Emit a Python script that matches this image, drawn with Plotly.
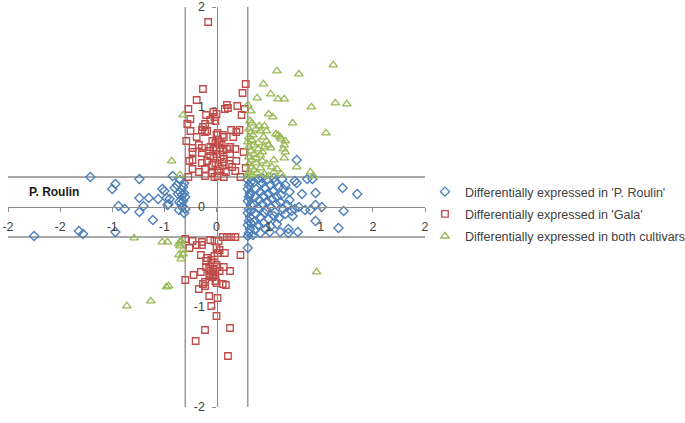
import plotly.graph_objects as go

# ---- data (log fold changes; x = 'P. Roulin', y = 'Gala') ----
roulin_x = [-1.75, -1.32, -1.28, -1.21, -0.97, -0.97, -1.00, -0.94, -0.88, -0.74, -0.74, -0.65, -0.70, -0.74, -0.61,
            -0.56, -0.52, -0.50, -0.48, -0.45, -0.47, -0.46, -0.42, -0.40, -0.35, -0.31, -0.37, -0.35, -0.33, -0.31,
            -0.36, -0.34, -0.32, -0.36, -0.33, -0.31, -0.38, -0.32, -0.30, -0.30,
            0.77, 0.77, 0.75, 0.87, 0.92, 1.21, 1.35, 0.95, 0.82, 0.70, 0.70, 0.79, 0.85, 0.90, 0.95, 1.01, 1.22,
            0.73, 0.95, 1.17, 0.61, 0.69, 0.69, 0.78, 0.51, 0.30, 0.72, 0.75,
            0.30, 0.31, 0.30, 0.32, 0.31, 0.30, 0.33, 0.31, 0.30, 0.32, 0.31, 0.30, 0.32, 0.31, 0.30, 0.33, 0.32, 0.33, 0.33,
            0.36, 0.40, 0.44, 0.48, 0.52, 0.56, 0.60, 0.64, 0.38, 0.42, 0.46, 0.50, 0.54, 0.58, 0.62, 0.37, 0.41, 0.45,
            0.49, 0.53, 0.57, 0.61, 0.36, 0.40, 0.44, 0.48, 0.52, 0.56, 0.64, 0.38, 0.42, 0.46, 0.50, 0.55, 0.60, 0.36,
            0.40, 0.45, 0.52, 0.58, 0.37, 0.42, 0.35, 0.47, 0.66, 0.68, 0.66, 0.44, 0.55, 0.63]
roulin_y = [-0.29, -0.24, -0.27, 0.30, -0.25, 0.23, 0.18, 0.01, -0.02, 0.28, 0.09, 0.09, 0.01, -0.05, -0.13,
            0.08, 0.18, 0.16, 0.09, 0.08, 0.02, 0.03, 0.31, 0.19, 0.27, 0.24, 0.13, 0.15, 0.12, 0.14,
            0.05, 0.04, 0.06, -0.03, 0.00, -0.06, 0.22, 0.20, 0.10, -0.02,
            0.47, 0.24, 0.26, 0.28, 0.28, 0.19, 0.13, 0.14, 0.13, 0.15, 0.07, 0.00, -0.03, -0.03, 0.02, 0.00, -0.04,
            -0.09, -0.14, -0.21, -0.25, -0.22, -0.26, -0.25, -0.25, -0.41, -0.04, -0.02,
            0.27, 0.22, 0.18, 0.14, 0.10, 0.06, 0.02, -0.02, -0.06, -0.10, -0.14, -0.18, -0.22, -0.26, -0.29, 0.25, 0.12, -0.04, -0.16,
            0.25, 0.28, 0.24, 0.27, 0.22, 0.25, 0.20, 0.18, 0.18, 0.15, 0.19, 0.13, 0.16, 0.10, 0.12, 0.10, 0.07, 0.11,
            0.05, 0.08, 0.03, 0.05, 0.02, -0.01, 0.03, -0.03, 0.00, -0.05, -0.02, -0.07, -0.10, -0.06, -0.12, -0.09, -0.11, -0.15,
            -0.18, -0.16, -0.19, -0.17, -0.23, -0.26, -0.28, -0.22, -0.07, 0.02, 0.22, 0.29, 0.29, 0.28]

gala_x = [-0.08, -0.13, -0.19, 0.28, 0.25, -0.27, 0.10, 0.08, 0.11, 0.20, 0.27, -0.03, -0.02, 0.00, -0.10, -0.06, -0.01,
          -0.28, -0.11, -0.13, -0.25, -0.14, -0.11, -0.09, 0.00, 0.01, 0.06, 0.07, 0.14, 0.19, 0.22, 0.16, -0.29, -0.04,
          -0.01, 0.01, 0.03, -0.17, -0.14, -0.23, -0.06, -0.03, 0.00, 0.03, 0.06, 0.10, 0.13, 0.18, -0.14, -0.23, -0.06,
          -0.03, 0.00, 0.04, 0.07, 0.13, -0.26, -0.23, -0.14, -0.09, -0.04, -0.01, 0.02, 0.07, 0.12, 0.19, -0.23, -0.17,
          -0.11, -0.04, 0.01, 0.04, 0.09, 0.18, -0.27, -0.11, -0.02, 0.01, 0.07, 0.23, 0.28, -0.25, 0.24, 0.05, -0.07,
          0.15, -0.19, 0.26,
          -0.23, -0.19, -0.14, -0.14, -0.06, -0.02, 0.02, 0.06, 0.10, 0.14, 0.00, 0.03, 0.01, -0.15, -0.02, 0.08, 0.23,
          -0.09, -0.10, -0.05, -0.02, 0.00, -0.10, -0.07, -0.03, 0.00, -0.15, -0.06, -0.02, 0.03, 0.07, 0.13, -0.22, -0.06,
          -0.04, -0.03, -0.01, -0.07, -0.30, -0.11, -0.13, -0.01, 0.00, 0.06, 0.09, -0.17, -0.11, -0.07, 0.01, -0.05, 0.00,
          -0.11, 0.13, -0.20, 0.11, -0.30, -0.26, 0.18]
gala_y = [1.85, 1.18, 1.07, 1.23, 1.14, 0.98, 1.02, 0.98, 0.99, 1.01, 0.98, 0.95, 0.90, 0.93, 0.92, 0.87, 0.86,
          0.83, 0.83, 0.80, 0.76, 0.77, 0.75, 0.76, 0.72, 0.74, 0.72, 0.70, 0.77, 0.75, 0.77, 0.70, 0.66, 0.66,
          0.64, 0.67, 0.65, 0.62, 0.59, 0.59, 0.60, 0.58, 0.57, 0.59, 0.57, 0.58, 0.60, 0.58, 0.54, 0.55, 0.51,
          0.49, 0.53, 0.50, 0.48, 0.53, 0.46, 0.47, 0.44, 0.46, 0.42, 0.44, 0.41, 0.45, 0.43, 0.46, 0.38, 0.35,
          0.38, 0.34, 0.36, 0.38, 0.35, 0.36, 0.30, 0.31, 0.30, 0.31, 0.30, 0.30, 0.39, 0.88, 0.92, 0.62, 0.56,
          0.40, 0.70, 0.55,
          -0.34, -0.38, -0.35, -0.38, -0.33, -0.34, -0.34, -0.30, -0.30, -0.30, -0.41, -0.43, -0.46, -0.48, -0.49, -0.46, -0.48,
          -0.51, -0.54, -0.53, -0.56, -0.58, -0.60, -0.62, -0.62, -0.60, -0.65, -0.64, -0.65, -0.64, -0.60, -0.64, -0.68, -0.67,
          -0.70, -0.68, -0.68, -0.69, -0.73, -0.75, -0.77, -0.74, -0.76, -0.77, -0.78, -0.82, -0.79, -0.89, -0.91, -0.99, -1.09,
          -1.23, -1.21, -1.34, -1.49, -0.32, -0.41, -0.30]

both_x = [1.12, 0.58, 0.79, 0.45, 0.52, 0.39, 0.59, 0.65, 0.30, 1.14, 1.25, 0.91, 0.33, 0.50, 0.54, 0.73, 1.05, 0.32,
          0.34, 0.41, 0.46, 0.59, 0.61, 0.66, 0.65, 0.64, 0.66, 0.65, 0.77, 0.93, 0.90, 0.57, 0.62,
          0.31, 0.33, 0.35, 0.31, 0.34, 0.38, 0.42, 0.48, 0.45, 0.48, 0.50, 0.52, 0.46, 0.40, 0.36, 0.31, 0.33, 0.36,
          0.31, 0.34, 0.38, 0.42, 0.44, 0.48, 0.53, 0.58, 0.31, 0.33, 0.36, 0.31, 0.34, 0.39, 0.42, 0.46, 0.50, 0.30,
          0.55, 0.62, 0.40, 0.30, 0.44, 0.55, 0.38,
          -0.32, -0.43, -0.35, -0.79, -0.52, -0.47, -0.35, -0.36, -0.34, -0.32, -0.32, -0.34, -0.35, -0.46, -0.48,
          -0.63, -0.86, 0.96, -0.36]
both_y = [1.42, 1.36, 1.33, 1.23, 1.13, 1.09, 1.08, 1.08, 1.02, 1.04, 1.03, 1.00, 0.96, 0.93, 0.90, 0.84, 0.74, 0.86,
          0.84, 0.81, 0.81, 0.72, 0.70, 0.66, 0.62, 0.58, 0.55, 0.49, 0.40, 0.31, 0.35, 0.73, 0.68,
          0.78, 0.75, 0.72, 0.70, 0.67, 0.78, 0.76, 0.76, 0.70, 0.66, 0.62, 0.59, 0.60, 0.64, 0.62, 0.60, 0.56, 0.53,
          0.50, 0.47, 0.49, 0.52, 0.46, 0.43, 0.40, 0.38, 0.43, 0.40, 0.37, 0.34, 0.32, 0.34, 0.39, 0.33, 0.31, 0.31,
          0.35, 0.33, 0.58, 0.65, 0.55, 0.47, 0.44,
          0.92, 0.46, 0.32, -0.31, -0.35, -0.35, -0.35, -0.37, -0.34, -0.43, -0.47, -0.52, -0.39, -0.79, -0.80,
          -0.94, -0.99, -0.65, -0.48]

x_tickvals = [-2, -1.5, -1, -0.5, 0, 0.5, 1, 1.5, 2]
x_ticktext = ['-2', '-2', '-1', '-1', '0', '1', '1', '2', '2']
y_tickvals = [-2, -1, 0, 1, 2]
y_ticktext = ['-2', '-1', '0', '1', '2']
thresholds = [-0.3, 0.3]
series_names = ["Differentially expressed in 'P. Roulin'",
                "Differentially expressed in 'Gala'",
                "Differentially expressed in both cultivars"]

fig = go.Figure()
fig.add_trace(go.Scatter(x=roulin_x, y=roulin_y, mode='markers', name=series_names[0], legendgroup='a',
                         marker=dict(symbol='diamond-open', size=7, color='#4A7EBB', line=dict(width=1.3))))
fig.add_trace(go.Scatter(x=gala_x, y=gala_y, mode='markers', name=series_names[1], legendgroup='b',
                         marker=dict(symbol='square-open', size=6.5, color='#BE4B48', line=dict(width=1.3))))
fig.add_trace(go.Scatter(x=both_x, y=both_y, mode='markers', name=series_names[2], legendgroup='c',
                         marker=dict(symbol='triangle-up-open', size=7.5, color='#98B954', line=dict(width=1.3))))

line_col = '#8C8C8C'
for t in thresholds:
    fig.add_shape(type='line', xref='x', yref='y', x0=t, x1=t, y0=-2, y1=2,
                  line=dict(color=line_col, width=1.3), layer='below')
    fig.add_shape(type='line', xref='x', yref='y', x0=-2, x1=2, y0=t, y1=t,
                  line=dict(color=line_col, width=1.3), layer='below')

fig.update_layout(
    width=685, height=423,
    margin=dict(l=8, r=260, t=7, b=16, autoexpand=False),
    paper_bgcolor='white', plot_bgcolor='white',
    font=dict(family='Liberation Sans, Arial, sans-serif', size=12, color='#404040'),
    showlegend=True,
    legend=dict(x=1.0, y=0.575, xanchor='left', yanchor='top', tracegroupgap=3,
                font=dict(size=12.5, color='#404040'), itemwidth=30, bgcolor='rgba(0,0,0,0)'),
    xaxis=dict(range=[-2, 2], anchor='free', position=0.5, showline=True, linecolor=line_col, linewidth=1.3,
               showgrid=False, zeroline=False, ticks='outside', ticklen=4, tickcolor=line_col, automargin=False,
               ticklabelstandoff=4, ticklabeloverflow='allow',
               tickvals=x_tickvals, ticktext=x_ticktext, tickfont=dict(size=12.5, color='#404040')),
    yaxis=dict(range=[-2, 2], anchor='free', position=0.5, showline=True, linecolor=line_col, linewidth=1.3,
               showgrid=False, zeroline=False, ticks='outside', ticklen=4, tickcolor=line_col, automargin=False,
               ticklabelstandoff=5, ticklabeloverflow='allow',
               tickvals=y_tickvals, ticktext=y_ticktext, tickfont=dict(size=12.5, color='#404040')),
    annotations=[
        dict(text='<b>P. Roulin</b>', xref='x', yref='y', x=-1.56, y=0.155, showarrow=False,
             font=dict(size=12, color='#1a1a1a')),
        dict(text='<b>Gala</b>', xref='x', yref='y', x=0.01, y=-2.1, showarrow=False,
             font=dict(size=12, color='#1a1a1a')),
    ],
)

fig.write_html('out.html', config={'displayModeBar': False},
               post_script="document.body.style.margin='0px';")
